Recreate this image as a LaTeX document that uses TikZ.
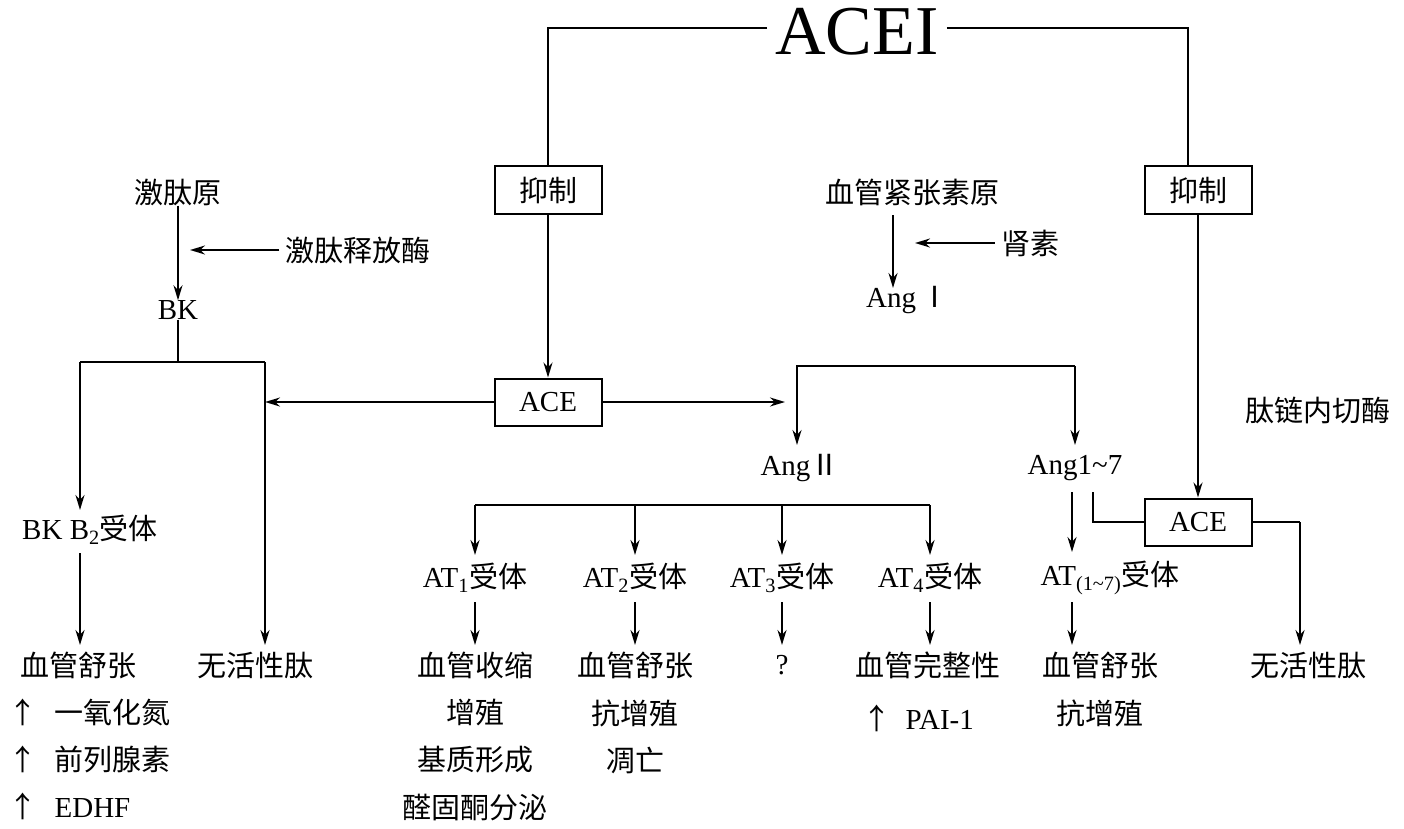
\documentclass[tikz,border=0pt]{standalone}
\usepackage{fontspec}
\setmainfont{Liberation Serif}
\newfontfamily\cjk{Noto Sans CJK SC}
\usetikzlibrary{arrows.meta}
\newcommand{\zh}[1]{{\cjk #1}}
\begin{document}
\begin{tikzpicture}[x=1pt,y=-1pt,
  every node/.style={font=\fontsize{29}{32}\selectfont,inner sep=0pt},
  ln/.style={line width=2pt},
  ar/.style={line width=2pt,-{Stealth[length=15pt,width=9pt]}},
  bx/.style={draw,line width=2pt,minimum width=107pt,minimum height=47pt}]
\useasboundingbox (0,0) rectangle (1404,829);
\node (acei) at (857,32) {\fontsize{70}{70}\selectfont ACEI};
\node[bx] (y1) at (548,190) {\zh{抑制}};
\node[bx] (y2) at (1198,190) {\zh{抑制}};
\node[bx] (ace) at (548,402) {ACE};
\node[bx] (ace2) at (1198,522) {ACE};
\draw[ln] ([xshift=-8pt]acei.west|-0,28) -- (548,28) -- (y1.north);
\draw[ln] ([xshift=8pt]acei.east|-0,28) -- (1188,28) -- (1188,166.5);
\draw[ar] (y1.south) -- (ace.north);
\draw[ar] (y2.south) -- (ace2.north);
% left
\node (jty) at (178,192) {\zh{激肽原}};
\node (bk) at (178,310) {BK};
\node (jtm) at (358,250) {\zh{激肽释放酶}};
\draw[ar] (jty.south) -- (bk.north);
\draw[ar] ([xshift=-6pt]jtm.west) -- (190,250);
\coordinate (lj) at (265,402);
\draw[ar] (ace.west) -- (lj);
\node (b2) at (90,530) {BK B\textsubscript{2}\zh{受体}};
\node (wh1) at (255,665) {\zh{无活性肽}};
\node (xg1) at (78,665) {\zh{血管舒张}};
\draw[ln] (bk.south) -- (178,362) -- (80,362);
\draw[ar] (80,362) -- (80,510);
\draw[ln] (178,362) -- (265,362);
\draw[ar] (265,362) -- (265,645);
\draw[ar] (80,553) -- (80,645);
\node[anchor=west] (n1) at (8,712) {\zh{↑\hspace{0.6em}一氧化氮}};
\node[anchor=west] (n2) at (8,759) {\zh{↑\hspace{0.6em}前列腺素}};
\node[anchor=west] (n3) at (8,806) {\zh{↑}\hspace{0.6em}EDHF};
% middle
\node (xgy) at (912,192) {\zh{血管紧张素原}};
\node (ang1) at (908,300) {Ang\,\zh{Ⅰ}};
\node (sz) at (1030,243) {\zh{肾素}};
\draw[ar] (893,215) -- (893,288);
\draw[ar] ([xshift=-6pt]sz.west) -- (915,243);
\coordinate (rj) at (785,402);
\draw[ar] (ace.east) -- (rj);
\node (ang2) at (800,468) {Ang\zh{Ⅱ}};
\node (ang7) at (1075,468) {Ang1\textasciitilde7};
\draw[ln] (797,402) -- (797,366) -- (1075,366);
\draw[ar] (797,366) -- (797,445);
\draw[ar] (1075,366) -- (1075,445);
\draw[ln] (475,505) -- (930,505);
\foreach \xx/\nm/\s in {475/at1/1,635/at2/2,782/at3/3,930/at4/4}{
  \node (\nm) at (\xx,578) {AT\textsubscript{\s}\zh{受体}};
  \draw[ar] (\xx,505) -- (\xx,555);
  \draw[ar] (\xx,602) -- (\xx,645);
}
\node (r1a) at (475,665) {\zh{血管收缩}};
\node (r1b) at (475,713) {\zh{增殖}};
\node (r1c) at (475,760) {\zh{基质形成}};
\node (r1d) at (475,808) {\zh{醛固酮分泌}};
\node (r2a) at (635,665) {\zh{血管舒张}};
\node (r2b) at (635,713) {\zh{抗增殖}};
\node (r2c) at (635,760) {\zh{凋亡}};
\node (r3a) at (782,665) {?};
\node (r4a) at (928,665) {\zh{血管完整性}};
\node (r4b) at (918,718) {\zh{↑}\hspace{0.5em}PAI-1};
% right
\node (at7) at (1110,578) {AT\textsubscript{(1\textasciitilde7)}\zh{受体}};
\draw[ar] (1072,492) -- (1072,552);
\draw[ar] (1072,602) -- (1072,645);
\node (r5a) at (1100,665) {\zh{血管舒张}};
\node (r5b) at (1100,713) {\zh{抗增殖}};
\draw[ln] (1093,492) -- (1093,522) -- (ace2.west);
\node (wh2) at (1308,665) {\zh{无活性肽}};
\draw[ln] (ace2.east) -- (1300,522);
\draw[ar] (1300,522) -- (1300,645);
\node (tl) at (1318,410) {\zh{肽链内切酶}};
\end{tikzpicture}
\end{document}
